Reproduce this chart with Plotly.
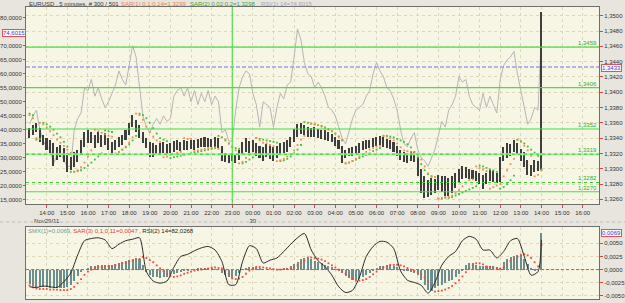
import plotly.graph_objects as go
import pandas as pd

W, H = 625, 303

# ---------------- data (10-minute bars) ----------------
bar_times = pd.date_range("2011-11-29 13:10", periods=150, freq="10min")

price_high = [1.3353, 1.3357, 1.3360, 1.3353, 1.3344, 1.3340, 1.3337, 1.3333, 1.3328, 1.3331,
              1.3327, 1.3320, 1.3315, 1.3322, 1.3324, 1.3337, 1.3348, 1.3351, 1.3348, 1.3344,
              1.3348, 1.3344, 1.3347, 1.3340, 1.3335, 1.3337, 1.3341, 1.3344, 1.3351, 1.3360,
              1.3370, 1.3364, 1.3357, 1.3348, 1.3340, 1.3335, 1.3333, 1.3331, 1.3333, 1.3335,
              1.3332, 1.3333, 1.3336, 1.3337, 1.3335, 1.3338, 1.3336, 1.3337, 1.3338, 1.3339,
              1.3340, 1.3341, 1.3340, 1.3339, 1.3341, 1.3340, 1.3330, 1.3320, 1.3319, 1.3320,
              1.3318, 1.3325, 1.3335, 1.3340, 1.3336, 1.3338, 1.3333, 1.3330, 1.3328, 1.3332,
              1.3330, 1.3328, 1.3330, 1.3333, 1.3335, 1.3338, 1.3342, 1.3352, 1.3358, 1.3360,
              1.3357, 1.3355, 1.3353, 1.3354, 1.3352, 1.3350, 1.3351, 1.3348, 1.3346, 1.3342,
              1.3338, 1.3330, 1.3325, 1.3327, 1.3328, 1.3330, 1.3333, 1.3336, 1.3337, 1.3338,
              1.3340, 1.3342, 1.3343, 1.3341, 1.3339, 1.3338, 1.3335, 1.3330, 1.3325, 1.3322,
              1.3320, 1.3323, 1.3322, 1.3315, 1.3300, 1.3290, 1.3285, 1.3288, 1.3287, 1.3292,
              1.3291, 1.3290, 1.3288, 1.3290, 1.3295, 1.3300, 1.3303, 1.3302, 1.3300, 1.3298,
              1.3297, 1.3295, 1.3292, 1.3294, 1.3298, 1.3297, 1.3295, 1.3315, 1.3328, 1.3334,
              1.3332, 1.3338, 1.3333, 1.3326, 1.3322, 1.3312, 1.3305, 1.3312, 1.3310, 1.3505]

price_low = [1.3340, 1.3344, 1.3348, 1.3335, 1.3331, 1.3324, 1.3320, 1.3303, 1.3311, 1.3315,
             1.3309, 1.3296, 1.3298, 1.3302, 1.3309, 1.3318, 1.3328, 1.3334, 1.3334, 1.3327,
             1.3334, 1.3328, 1.3331, 1.3324, 1.3320, 1.3324, 1.3328, 1.3331, 1.3337, 1.3344,
             1.3355, 1.3348, 1.3340, 1.3334, 1.3327, 1.3315, 1.3315, 1.3318, 1.3318, 1.3320,
             1.3318, 1.3320, 1.3322, 1.3324, 1.3323, 1.3325, 1.3324, 1.3326, 1.3325, 1.3327,
             1.3328, 1.3328, 1.3329, 1.3328, 1.3329, 1.3327, 1.3310, 1.3309, 1.3308, 1.3310,
             1.3307, 1.3312, 1.3318, 1.3322, 1.3320, 1.3322, 1.3316, 1.3314, 1.3310, 1.3315,
             1.3313, 1.3310, 1.3314, 1.3318, 1.3320, 1.3322, 1.3328, 1.3335, 1.3342, 1.3345,
             1.3344, 1.3342, 1.3341, 1.3342, 1.3340, 1.3339, 1.3338, 1.3336, 1.3335, 1.3330,
             1.3326, 1.3307, 1.3314, 1.3316, 1.3317, 1.3319, 1.3321, 1.3324, 1.3326, 1.3327,
             1.3328, 1.3330, 1.3331, 1.3329, 1.3327, 1.3326, 1.3322, 1.3316, 1.3311, 1.3309,
             1.3308, 1.3310, 1.3309, 1.3290, 1.3268, 1.3262, 1.3263, 1.3266, 1.3268, 1.3272,
             1.3270, 1.3265, 1.3264, 1.3268, 1.3275, 1.3282, 1.3287, 1.3288, 1.3287, 1.3286,
             1.3284, 1.3280, 1.3274, 1.3280, 1.3284, 1.3283, 1.3282, 1.3283, 1.3310, 1.3314,
             1.3316, 1.3322, 1.3318, 1.3310, 1.3302, 1.3292, 1.3290, 1.3296, 1.3297, 1.3298]

sar1 = [1.3370, 1.3366, 1.3340, 1.3360, 1.3358, 1.3354, 1.3349, 1.3344, 1.3338, 1.3334,
        1.3330, 1.3325, 1.3321, 1.3296, 1.3298, 1.3302, 1.3308, 1.3316, 1.3324, 1.3351,
        1.3349, 1.3347, 1.3345, 1.3343, 1.3342, 1.3320, 1.3322, 1.3325, 1.3329, 1.3334,
        1.3341, 1.3372, 1.3370, 1.3364, 1.3355, 1.3348, 1.3342, 1.3337, 1.3335, 1.3315,
        1.3316, 1.3318, 1.3319, 1.3321, 1.3322, 1.3340, 1.3339, 1.3339, 1.3323, 1.3324,
        1.3325, 1.3326, 1.3327, 1.3327, 1.3328, 1.3326, 1.3341, 1.3338, 1.3333, 1.3328,
        1.3324, 1.3307, 1.3309, 1.3314, 1.3318, 1.3320, 1.3340, 1.3337, 1.3334, 1.3333,
        1.3331, 1.3329, 1.3310, 1.3311, 1.3313, 1.3316, 1.3319, 1.3324, 1.3331, 1.3338,
        1.3343, 1.3360, 1.3359, 1.3358, 1.3357, 1.3355, 1.3353, 1.3351, 1.3349, 1.3346,
        1.3342, 1.3338, 1.3307, 1.3308, 1.3310, 1.3313, 1.3316, 1.3319, 1.3322, 1.3325,
        1.3327, 1.3329, 1.3330, 1.3343, 1.3342, 1.3340, 1.3337, 1.3333, 1.3328, 1.3324,
        1.3323, 1.3322, 1.3321, 1.3318, 1.3312, 1.3303, 1.3294, 1.3290, 1.3289, 1.3261,
        1.3262, 1.3263, 1.3263, 1.3265, 1.3268, 1.3272, 1.3277, 1.3282, 1.3285, 1.3286,
        1.3303, 1.3301, 1.3299, 1.3297, 1.3274, 1.3276, 1.3278, 1.3280, 1.3290, 1.3298,
        1.3306, 1.3313, 1.3338, 1.3335, 1.3330, 1.3324, 1.3317, 1.3290, 1.3292, 1.3299]

sar2 = [1.3372, 1.3370, 1.3338, 1.3339, 1.3360, 1.3358, 1.3355, 1.3351, 1.3346, 1.3341,
        1.3335, 1.3329, 1.3296, 1.3296, 1.3297, 1.3298, 1.3301, 1.3304, 1.3308, 1.3312,
        1.3316, 1.3320, 1.3350, 1.3349, 1.3348, 1.3319, 1.3322, 1.3325, 1.3328, 1.3332,
        1.3337, 1.3343, 1.3372, 1.3370, 1.3366, 1.3360, 1.3353, 1.3346, 1.3340, 1.3338,
        1.3336, 1.3314, 1.3315, 1.3316, 1.3317, 1.3318, 1.3319, 1.3320, 1.3321, 1.3322,
        1.3323, 1.3324, 1.3325, 1.3326, 1.3327, 1.3343, 1.3341, 1.3337, 1.3333, 1.3329,
        1.3327, 1.3326, 1.3307, 1.3309, 1.3312, 1.3315, 1.3340, 1.3339, 1.3338, 1.3337,
        1.3336, 1.3335, 1.3334, 1.3310, 1.3311, 1.3313, 1.3316, 1.3320, 1.3325, 1.3331,
        1.3361, 1.3360, 1.3359, 1.3358, 1.3357, 1.3356, 1.3354, 1.3352, 1.3349, 1.3346,
        1.3342, 1.3337, 1.3307, 1.3308, 1.3310, 1.3312, 1.3314, 1.3316, 1.3318, 1.3320,
        1.3323, 1.3325, 1.3327, 1.3343, 1.3343, 1.3342, 1.3341, 1.3339, 1.3337, 1.3335,
        1.3332, 1.3328, 1.3322, 1.3315, 1.3306, 1.3298, 1.3293, 1.3290, 1.3289, 1.3261,
        1.3261, 1.3262, 1.3262, 1.3263, 1.3265, 1.3267, 1.3269, 1.3271, 1.3273, 1.3275,
        1.3277, 1.3304, 1.3303, 1.3301, 1.3299, 1.3298, 1.3296, 1.3274, 1.3276, 1.3280,
        1.3285, 1.3291, 1.3338, 1.3336, 1.3333, 1.3329, 1.3325, 1.3321, 1.3317, 1.3298]

rsi1 = [42, 45, 47, 40, 36, 34, 33, 28, 31, 32, 29, 27, 27, 40, 44, 46, 55, 54, 58, 52,
        55, 51, 48, 50, 53, 56, 61, 58, 56, 63, 70, 66, 55, 45, 41, 39, 42, 44, 42, 45,
        43, 44, 52, 54, 55, 52, 55, 50, 54, 49, 53, 50, 54, 49, 52, 50, 39, 40, 36, 36,
        47, 55, 59, 61, 60, 53, 49, 41, 50, 49, 48, 41, 48, 53, 51, 56, 57, 66, 76, 72,
        64, 60, 59, 55, 57, 55, 52, 48, 47, 45, 41, 37, 35, 40, 44, 47, 48, 49, 52, 54,
        60, 64, 61, 59, 55, 54, 51, 47, 40, 35, 34, 37, 39, 33, 30, 29, 27, 30, 33, 38,
        43, 41, 47, 49, 52, 59, 57, 58, 52, 49, 48, 47, 53, 48, 52, 49, 46, 58, 63, 65,
        66, 68, 60, 54, 48, 42, 44, 48, 47, 74.6015]

osc_hist = [-0.0027, -0.0031, -0.0033, -0.0033, -0.0033, -0.0033, -0.0035, -0.0035, -0.0036, -0.0036,
            -0.0036, -0.0033, -0.0029, -0.0021, -0.0012, -0.0005, 0.0000, 0.0003, 0.0006, 0.0007,
            0.0008, 0.0008, 0.0008, 0.0008, 0.0009, 0.0011, 0.0013, 0.0015, 0.0016, 0.0018,
            0.0021, 0.0022, 0.0021, 0.0009, -0.0005, -0.0011, -0.0014, -0.0015, -0.0016, -0.0015,
            -0.0014, -0.0011, -0.0008, -0.0006, -0.0005, -0.0003, -0.0001, 0.0000, 0.0001, 0.0002,
            0.0003, 0.0003, 0.0003, 0.0002, 0.0001, 0.0000, -0.0006, -0.0011, -0.0014, -0.0016,
            -0.0012, -0.0007, 0.0000, 0.0003, 0.0004, 0.0005, 0.0004, 0.0002, 0.0001, 0.0001,
            0.0000, 0.0000, 0.0001, 0.0001, 0.0002, 0.0002, 0.0006, 0.0011, 0.0015, 0.0021,
            0.0022, 0.0022, 0.0020, 0.0017, 0.0015, 0.0012, 0.0009, 0.0007, 0.0004, 0.0001,
            -0.0002, -0.0007, -0.0012, -0.0016, -0.0019, -0.0019, -0.0017, -0.0014, -0.0011, -0.0006,
            -0.0001, 0.0003, 0.0006, 0.0007, 0.0008, 0.0008, 0.0007, 0.0004, 0.0001, -0.0001,
            -0.0003, -0.0004, -0.0006, -0.0011, -0.0020, -0.0029, -0.0038, -0.0040, -0.0036, -0.0031,
            -0.0029, -0.0025, -0.0022, -0.0019, -0.0014, -0.0008, -0.0002, 0.0008, 0.0012, 0.0012,
            0.0009, 0.0007, 0.0006, 0.0007, 0.0007, 0.0006, 0.0005, 0.0003, 0.0014, 0.0021,
            0.0024, 0.0026, 0.0028, 0.0027, 0.0021, 0.0011, 0.0003, -0.0001, 0.0000, 0.0069]

sar3 = [-0.0030, -0.0034, -0.0036, -0.0037, -0.0037, -0.0037, -0.0038, -0.0038, -0.0038, -0.0039,
        -0.0039, -0.0039, -0.0037, -0.0033, -0.0026, -0.0018, -0.0010, -0.0004, 0.0000, 0.0003,
        0.0004, 0.0005, 0.0006, 0.0006, 0.0007, 0.0008, 0.0010, 0.0012, 0.0013, 0.0015,
        0.0017, 0.0019, 0.0020, 0.0024, 0.0022, 0.0018, 0.0014, 0.0008, 0.0002, -0.0003,
        -0.0008, -0.0012, -0.0014, -0.0013, -0.0011, -0.0008, -0.0006, -0.0004, -0.0002, -0.0001,
        0.0000, 0.0001, 0.0002, 0.0004, 0.0004, 0.0003, 0.0002, -0.0002, -0.0008, -0.0017,
        -0.0018, -0.0017, -0.0014, -0.0008, -0.0002, 0.0002, 0.0005, 0.0005, 0.0004, 0.0003,
        0.0002, 0.0001, 0.0000, 0.0000, 0.0001, 0.0001, 0.0002, 0.0004, 0.0008, 0.0012,
        0.0017, 0.0023, 0.0023, 0.0022, 0.0021, 0.0019, 0.0016, 0.0012, 0.0008, 0.0004,
        0.0000, -0.0004, -0.0008, -0.0012, -0.0017, -0.0021, -0.0021, -0.0020, -0.0018, -0.0014,
        -0.0009, -0.0004, 0.0001, 0.0004, 0.0006, 0.0009, 0.0009, 0.0009, 0.0008, 0.0006,
        0.0003, 0.0000, -0.0002, -0.0005, -0.0009, -0.0015, -0.0022, -0.0030, -0.0042, -0.0041,
        -0.0040, -0.0038, -0.0035, -0.0031, -0.0026, -0.0020, -0.0013, -0.0005, 0.0003, 0.0008,
        0.0012, 0.0012, 0.0010, 0.0006, 0.0005, 0.0004, 0.0003, 0.0002, 0.0004, 0.0010,
        0.0016, 0.0020, 0.0024, 0.0028, 0.0029, 0.0027, 0.0022, 0.0014, 0.0006, 0.0047]

# RSI(2) read every 20 minutes, plus the final bar
rsi2_times = list(bar_times[::2]) + [bar_times[-1]]
rsi2 = [17, 16, 18, 17, 16, 24, 36, 61, 81, 84, 85, 82, 70, 76, 81, 83, 85, 38, 25, 22,
        25, 44, 59, 62, 67, 71, 73, 68, 52, 20, 20, 52, 74, 70, 50, 54, 57, 66, 76, 85,
        91, 68, 53, 45, 33, 17, 9, 12, 30, 59, 73, 80, 79, 70, 39, 26, 23, 19, 8, 23,
        47, 59, 66, 81, 87, 83, 68, 68, 57, 66, 81, 84, 59, 33, 38, 82.0268]

level_values = [1.3459, 1.3406, 1.3352, 1.3319, 1.3282, 1.3270]
level_labels = ["1,3459", "1,3406", "1,3352", "1,3319", "1,3282", "1,3270"]
last_price = 1.3433
last_rsi1 = 74.6015
last_osc = 0.0069
session_marker = "2011-11-29 23:00"

price_ticks = [1.3260, 1.3280, 1.3300, 1.3320, 1.3340, 1.3360, 1.3380, 1.3400,
               1.3420, 1.3440, 1.3460, 1.3480, 1.3500]
price_tick_text = ["1,3260", "1,3280", "1,3300", "1,3320", "1,3340", "1,3360", "1,3380",
                   "1,3400", "1,3420", "1,3440", "1,3460", "1,3480", "1,3500"]
rsi_ticks = [15, 20, 25, 30, 35, 40, 45, 50, 55, 60, 65, 70, 80]
rsi_tick_text = ["15,0000", "20,0000", "25,0000", "30,0000", "35,0000", "40,0000", "45,0000",
                 "50,0000", "55,0000", "60,0000", "65,0000", "70,0000", "80,0000"]
osc_ticks = [-0.005, -0.0025, 0.0, 0.0025, 0.005]
osc_tick_text = ["-0,0050", "-0,0025", "0,0000", "0,0025", "0,0050"]

hour_ticks = pd.date_range("2011-11-29 14:00", "2011-11-30 16:00", freq="h")
hour_text = []
for t in hour_ticks:
    s = t.strftime("%H:%M")
    if t == pd.Timestamp("2011-11-29 14:00"):
        s += "<br>Nov29/11"
    elif t == pd.Timestamp("2011-11-30 00:00"):
        s += "<br>30"
    hour_text.append(s)

# ---------------- styling ----------------
FONT = "Liberation Sans, Arial, sans-serif"
FS = 6
TXT = "#333333"
GRID = "#dcd7b8"
AXL = "#6e6e6e"
TICKC = "#e04040"
PLOT_BG = "#f7f5e4"
PAPER_BG = "#e7e5dd"
GREEN = "#45e045"

def px(x):
    return x / W

def py(y):
    return 1 - y / H

x_range = ["2011-11-29 12:59:40", "2011-11-30 16:47:30"]
main_dom = [py(204), py(7)]
low_dom = [py(299), py(227)]
x_dom = [px(26), px(599)]

fig = go.Figure()

# RSI(1) line (behind price)
fig.add_trace(go.Scatter(x=bar_times, y=rsi1, xaxis="x", yaxis="y", mode="lines",
                         line=dict(color="#b6b6b6", width=1), hoverinfo="skip"))
# price bars
fig.add_trace(go.Bar(x=bar_times, y=[h - l for h, l in zip(price_high, price_low)], base=price_low,
                     xaxis="x", yaxis="y2", width=0.45 * 600000,
                     marker=dict(color="#3e3e3e", line=dict(width=0)), hoverinfo="skip"))
fig.add_trace(go.Scatter(x=bar_times, y=sar2, xaxis="x", yaxis="y2", mode="markers",
                         marker=dict(color="#38c038", size=1.8, symbol="square", line=dict(width=0)),
                         hoverinfo="skip"))
fig.add_trace(go.Scatter(x=bar_times, y=sar1, xaxis="x", yaxis="y2", mode="markers",
                         marker=dict(color="#f58a48", size=1.8, symbol="square", line=dict(width=0)),
                         hoverinfo="skip"))
# lower panel
fig.add_trace(go.Bar(x=bar_times, y=osc_hist, xaxis="x2", yaxis="y3", width=0.6 * 600000,
                     marker=dict(color="#6b8f8f", line=dict(width=0)), hoverinfo="skip"))
fig.add_trace(go.Scatter(x=bar_times, y=sar3, xaxis="x2", yaxis="y3", mode="markers",
                         marker=dict(color="#f04a3a", size=1.8, symbol="square", line=dict(width=0)),
                         hoverinfo="skip"))
fig.add_trace(go.Scatter(x=rsi2_times, y=rsi2, xaxis="x2", yaxis="y4", mode="lines",
                         line=dict(color="#2a2a2a", width=1, shape="spline", smoothing=0.7),
                         hoverinfo="skip"))

shapes = []
for v in level_values:
    if v == 1.3319:
        shapes.append(dict(type="line", xref="x domain", yref="y2", x0=0, x1=1, y0=v, y1=v,
                           line=dict(color="#a4eea4", width=2), layer="above"))
        shapes.append(dict(type="line", xref="x domain", yref="y2", x0=0, x1=1, y0=v, y1=v,
                           line=dict(color="#36d036", width=1, dash="dot"), layer="above"))
    elif v == 1.3282:
        shapes.append(dict(type="line", xref="x domain", yref="y2", x0=0, x1=1, y0=v, y1=v,
                           line=dict(color="#36d036", width=1, dash="dot"), layer="above"))
    else:
        shapes.append(dict(type="line", xref="x domain", yref="y2", x0=0, x1=1, y0=v, y1=v,
                           line=dict(color=GREEN, width=1.1), layer="above"))
shapes.append(dict(type="line", xref="x domain", yref="y2", x0=0, x1=1, y0=last_price, y1=last_price,
                   line=dict(color="#9c9cf0", width=1.6, dash="4px,2px"), layer="above"))
shapes.append(dict(type="line", xref="x", yref="y domain", x0=session_marker, x1=session_marker,
                   y0=0, y1=1, line=dict(color=GREEN, width=1.1), layer="above"))
shapes.append(dict(type="line", xref="x2 domain", yref="y3", x0=0, x1=1, y0=0, y1=0,
                   line=dict(color="#f04a3a", width=1, dash="3px,2px"), layer="above"))
shapes.append(dict(type="line", xref="paper", yref="paper", x0=0, x1=1, y0=py(222), y1=py(222),
                   line=dict(color="#bcbab2", width=1, dash="dot"), layer="above"))

annotations = []
# top header
hdr = [("EURUSD , 5 minutes, # 300 / 501", 27, "#3a3a3a"),
       ("SAR(1) 0,1;0,14=1,3299", 119, "#f07a48"),
       ("SAR(2) 0,02;0,2=1,3298", 188, "#34a834"),
       ("RSI(1) 14=74,6015", 259, "#a4a4b4")]
for text, x, c in hdr:
    annotations.append(dict(text=text, xref="paper", yref="paper", x=px(x), y=py(3.8),
                            xanchor="left", yanchor="middle", showarrow=False,
                            font=dict(family=FONT, size=FS, color=c)))
# lower header
lhdr = [("SMX(1)=0,0069", 26, "#6f9c9c"),
        (", SAR(3) 0,1;0,11=0,0047", 68, "#e8402e"),
        (", RSI(2) 14=82,0268", 137, "#222222")]
for text, x, c in lhdr:
    annotations.append(dict(text=text, xref="paper", yref="paper", x=px(x), y=py(230.5),
                            xanchor="left", yanchor="middle", showarrow=False,
                            font=dict(family=FONT, size=FS, color=c)))
# level labels
for v, t in zip(level_values, level_labels):
    annotations.append(dict(text=t, xref="paper", yref="y2", x=px(598.5), y=v, xanchor="right",
                            yanchor="bottom", showarrow=False, yshift=-1,
                            font=dict(family=FONT, size=FS, color="#30b030")))
# value boxes
box = dict(showarrow=False, bgcolor="#fbfbf8", bordercolor="#e85050", borderwidth=1, borderpad=0,
           font=dict(family=FONT, size=FS, color="#3a3ae8"))
annotations.append(dict(text="74,6015", xref="paper", yref="y", x=px(25.5), y=last_rsi1,
                        xanchor="right", yanchor="middle", **box))
annotations.append(dict(text="1,3433", xref="paper", yref="y2", x=px(601), y=last_price,
                        xanchor="left", yanchor="middle", yshift=-1, **box))
annotations.append(dict(text="0,0069", xref="paper", yref="y3", x=px(601), y=last_osc,
                        xanchor="left", yanchor="middle", **box))

tickfont = dict(family=FONT, size=FS, color=TXT)
common_x = dict(type="date", range=x_range, domain=x_dom, tickvals=list(hour_ticks),
                ticktext=hour_text, showgrid=True, gridcolor=GRID, griddash="dot", gridwidth=1,
                showline=True, linecolor=AXL, linewidth=1, mirror=True, zeroline=False,
                tickfont=tickfont, fixedrange=True)

fig.update_layout(
    width=W, height=H, margin=dict(l=0, r=0, t=0, b=0),
    paper_bgcolor=PAPER_BG, plot_bgcolor=PLOT_BG, showlegend=False,
    barmode="overlay", bargap=0, hovermode=False,
    xaxis=dict(anchor="y", ticks="outside", ticklen=3, tickcolor=TICKC, tickangle=0, **common_x),
    xaxis2=dict(anchor="y3", ticks="", showticklabels=False, **common_x),
    yaxis=dict(domain=main_dom, anchor="x", side="left", range=[13.57, 83.8],
               tickvals=rsi_ticks, ticktext=rsi_tick_text, tickfont=tickfont,
               ticks="outside", ticklen=2, tickcolor=TICKC, showgrid=False, zeroline=False,
               showline=True, linecolor=AXL, linewidth=1),
    yaxis2=dict(overlaying="y", anchor="x", side="right", range=[1.32539, 1.35114],
                tickvals=price_ticks, ticktext=price_tick_text, tickfont=tickfont,
                ticks="outside", ticklen=3, tickcolor=TICKC, showgrid=True, gridcolor=GRID,
                griddash="dot", zeroline=False, showline=True, linecolor=AXL, linewidth=1),
    yaxis3=dict(domain=low_dom, anchor="x2", side="right", range=[-0.0056, 0.0081],
                tickvals=osc_ticks, ticktext=osc_tick_text, tickfont=tickfont,
                ticks="outside", ticklen=3, tickcolor=TICKC, showgrid=True, gridcolor=GRID,
                griddash="dot", zeroline=False, showline=True, linecolor=AXL, linewidth=1,
                mirror=True),
    yaxis4=dict(overlaying="y3", anchor="x2", side="left", range=[0, 100], visible=False),
    shapes=shapes, annotations=annotations,
)

fig.write_html("out.html", config={"displayModeBar": False})
